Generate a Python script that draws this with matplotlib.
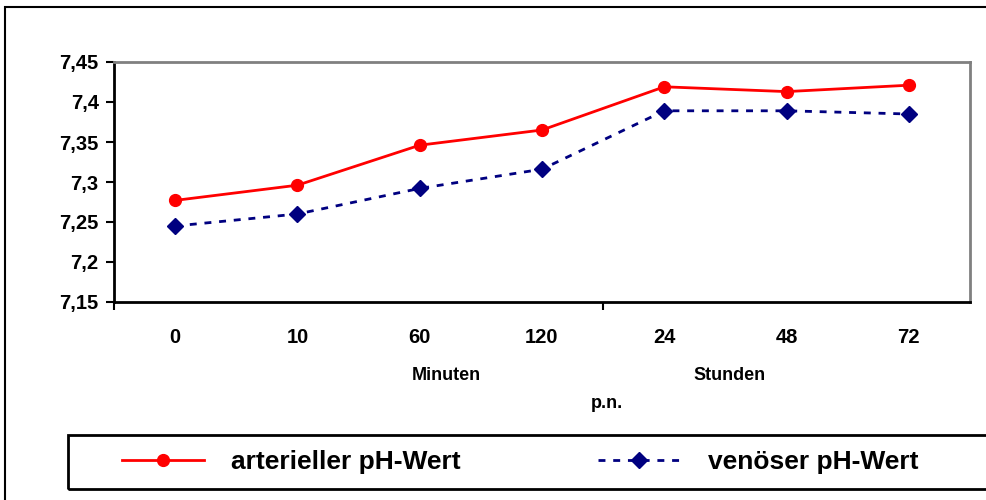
import matplotlib.pyplot as plt
import matplotlib.patches as patches
from matplotlib.ticker import FuncFormatter

plt.rcParams['font.family'] = ['Liberation Sans', 'DejaVu Sans']
plt.rcParams['font.weight'] = 'bold'

# Zeitpunkte p.n. (Minuten, dann Stunden)
zeitpunkte = ["0", "10", "60", "120", "24", "48", "72"]
arteriell = [7.277, 7.296, 7.346, 7.365, 7.419, 7.413, 7.421]
venoes = [7.245, 7.260, 7.292, 7.316, 7.389, 7.389, 7.385]
y_ticks = [7.15, 7.2, 7.25, 7.3, 7.35, 7.4, 7.45]

fig = plt.figure(figsize=(9.86, 5.0), dpi=100)
W, H = 986, 500

# outer frame, cut off at right and bottom
fig.add_artist(patches.Rectangle((5 / W, -0.1), 1.2, (493 + 50) / H, transform=fig.transFigure,
                                 fill=False, edgecolor="black", linewidth=1.5))

ax = fig.add_axes([114 / W, 1 - 302 / H, (970 - 114) / W, (302 - 62) / H])
x = list(range(len(zeitpunkte)))
ax.plot(x, arteriell, color="red", linewidth=2, marker="o", markersize=8.5,
        label="arterieller pH-Wert")
ax.plot(x, venoes, color="#000080", linewidth=2, linestyle=(0, (2.5, 2.8)), marker="D",
        markersize=8, label="venöser pH-Wert")

ax.set_xlim(-0.5, len(zeitpunkte) - 0.5)
ax.set_ylim(7.15, 7.45)
ax.set_yticks(y_ticks)
ax.yaxis.set_major_formatter(FuncFormatter(lambda v, p: f"{v:g}".replace(".", ",")))
ax.tick_params(axis="y", direction="out", length=6, width=1.5, labelsize=14.5, pad=5)
ax.set_xticks(x)
ax.set_xticklabels(zeitpunkte)
ax.tick_params(axis="x", length=0, labelsize=14.5, pad=19)
# minor ticks on x only at the start and at the Minuten/Stunden split
ax.set_xticks([-0.5, 3.5], minor=True)
ax.tick_params(axis="x", which="minor", direction="out", length=6, width=1.5)

for side in ("left", "bottom"):
    ax.spines[side].set_color("black")
    ax.spines[side].set_linewidth(2)
for side in ("top", "right"):
    ax.spines[side].set_color("#808080")
    ax.spines[side].set_linewidth(2)

fig.text(446 / W, 1 - 376 / H, "Minuten", ha="center", va="center", fontsize=13)
fig.text(730 / W, 1 - 376 / H, "Stunden", ha="center", va="center", fontsize=13)
fig.text(607 / W, 1 - 403 / H, "p.n.", ha="center", va="center", fontsize=13)

# legend box running past the right edge
fig.add_artist(patches.Rectangle((68 / W, 1 - 489 / H), 1.0, (489 - 435) / H,
                                 transform=fig.transFigure, fill=False,
                                 edgecolor="black", linewidth=2))
handles, labels = ax.get_legend_handles_labels()
fig.legend(handles, labels, loc="center left", bbox_to_anchor=(98 / W, 1 - 462 / H),
           ncol=2, frameon=False, fontsize=19, handlelength=3.1, handletextpad=1.05,
           columnspacing=5.2)

plt.savefig("out.png", dpi=100)
plt.close()
